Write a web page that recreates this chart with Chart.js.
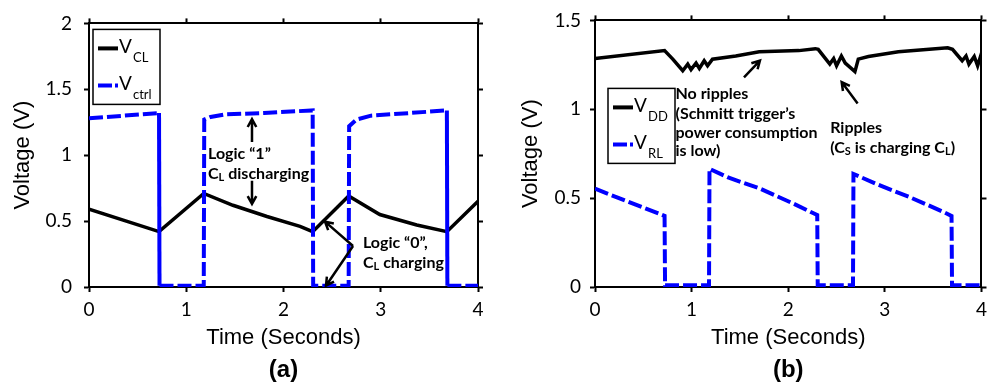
<!DOCTYPE html>
<html>
<head>
<meta charset="utf-8">
<script src="https://cdn.jsdelivr.net/npm/chart.js@4.4.1/dist/chart.umd.min.js"></script>
<style>
html, body { margin: 0; padding: 0; background: #fff; }
#wrap { position: relative; width: 993px; height: 385px; }
canvas { position: absolute; top: 0; }
</style>
</head>
<body>
<div id="wrap">
  <canvas id="chartA" width="490" height="385" style="left:0px"></canvas>
  <canvas id="chartB" width="503" height="385" style="left:490px"></canvas>
</div>
<script>
// ---- panel (a) ----
var clTime   = [0, 0.72, 1.18, 1.48, 1.83, 2.17, 2.3, 2.67, 2.99, 3.37, 3.68, 4.0];
var clVolt   = [0.59, 0.42, 0.71, 0.62, 0.535, 0.46, 0.42, 0.69, 0.55, 0.47, 0.42, 0.65];
var ctrlTime = [0, 0.72, 0.725, 1.18, 1.185, 1.25, 1.4, 1.8, 2.3, 2.305, 2.67, 2.675, 2.75, 2.9, 3.3, 3.68, 3.685, 4.0];
var ctrlVolt = [1.28, 1.32, 0.01, 0.01, 1.27, 1.29, 1.31, 1.32, 1.34, 0.01, 0.01, 1.22, 1.27, 1.30, 1.32, 1.34, 0.01, 0.01];

// ---- panel (b) ----
var ddTime = [0, 0.72, 0.805, 0.908, 0.96, 0.994, 1.046, 1.08, 1.13, 1.165, 1.216, 1.457, 1.70, 2.11, 2.28, 2.31,
              2.43, 2.47, 2.50, 2.55, 2.59, 2.69, 2.725, 2.83, 3.14, 3.65, 3.70, 3.80, 3.84, 3.87, 3.925, 3.96, 3.986, 4.0];
var ddVolt = [1.286, 1.33, 1.282, 1.217, 1.254, 1.223, 1.26, 1.23, 1.273, 1.245, 1.282, 1.30, 1.323, 1.33, 1.341, 1.337,
              1.254, 1.285, 1.245, 1.30, 1.26, 1.212, 1.282, 1.297, 1.323, 1.346, 1.337, 1.273, 1.30, 1.254, 1.297, 1.245, 1.29, 1.26];
var rlTime = [0, 0.72, 0.725, 1.18, 1.185, 1.37, 1.71, 2.05, 2.3, 2.305, 2.67, 2.675, 2.91, 3.25, 3.6, 3.69, 3.695, 4.0];
var rlVolt = [0.553, 0.40, 0.01, 0.01, 0.665, 0.618, 0.553, 0.47, 0.405, 0.01, 0.01, 0.636, 0.58, 0.507, 0.424, 0.40, 0.01, 0.01];

// ---- ticks ----
var timeTicks  = [0, 1, 2, 3, 4];
var voltTicksA = [0, 0.5, 1, 1.5, 2];
var voltTicksB = [0, 0.5, 1, 1.5];

function toPoints(t, v) {
    return t.map(function (x, i) { return {x: x, y: v[i]}; });
}

function setTicks(list) {
    return function (scale) {
        scale.ticks = list.map(function (v) { return {value: v}; });
    };
}

function makeScales(yTicks, yMax, leftW, rightW, yPad, titlePad) {
    var tickFont = {family: 'Lato', size: 19};
    var titleFont = {family: 'Liberation Sans', size: 22};
    var grid = {drawOnChartArea: false, tickLength: 5, tickWidth: 2, color: '#000'};
    var border = {color: '#000', width: 2};
    return {
        x: {
            type: 'linear', position: 'bottom', min: 0, max: 4,
            afterBuildTicks: setTicks(timeTicks),
            ticks: {font: tickFont, color: '#000', padding: 6, callback: function (v) { return String(v); }},
            grid: grid, border: border,
            title: {display: true, text: 'Time (Seconds)', font: titleFont, color: '#000', padding: {top: 0, bottom: 34}},
            afterFit: function (s) { s.height = 98; }
        },
        x2: {
            type: 'linear', position: 'top', min: 0, max: 4,
            afterBuildTicks: setTicks(timeTicks),
            ticks: {display: false},
            grid: grid, border: border,
            afterFit: function (s) { s.height = 17; }
        },
        y: {
            type: 'linear', position: 'left', min: 0, max: yMax,
            afterBuildTicks: setTicks(yTicks),
            ticks: {font: tickFont, color: '#000', padding: yPad, callback: function (v) { return String(v); }},
            grid: grid, border: border,
            title: {display: true, text: 'Voltage (V)', font: titleFont, color: '#000', padding: {top: titlePad, bottom: 0}},
            afterFit: function (s) { s.width = leftW; }
        },
        y2: {
            type: 'linear', position: 'right', min: 0, max: yMax,
            afterBuildTicks: setTicks(yTicks),
            ticks: {display: false},
            grid: grid, border: border,
            afterFit: function (s) { s.width = rightW; }
        }
    };
}

function drawArrow(ctx, x1, y1, x2, y2) {
    var a = Math.atan2(y2 - y1, x2 - x1), h = 9, w = 0.5;
    ctx.beginPath();
    ctx.moveTo(x1, y1);
    ctx.lineTo(x2, y2);
    ctx.moveTo(x2 - h * Math.cos(a - w), y2 - h * Math.sin(a - w));
    ctx.lineTo(x2, y2);
    ctx.lineTo(x2 - h * Math.cos(a + w), y2 - h * Math.sin(a + w));
    ctx.stroke();
}

function drawRich(ctx, x, y, parts) {
    parts.forEach(function (p) {
        var sub = Array.isArray(p);
        var s = sub ? p[0] : p;
        ctx.font = sub ? 'bold 11px Lato' : 'bold 16px Lato';
        ctx.fillText(s, x, sub ? y + 4 : y);
        x += ctx.measureText(s).width;
    });
}

var notesPlugin = {
    id: 'notes',
    afterDraw: function (chart, args, opts) {
        var ctx = chart.ctx, area = chart.chartArea;
        var xs = chart.scales.x, ys = chart.scales.y;
        ctx.save();

        // legend
        var bx = area.left + opts.legend[0], by = area.top + opts.legend[1];
        ctx.fillStyle = '#fff';
        ctx.fillRect(bx, by, 67, 75);
        ctx.strokeStyle = '#000';
        ctx.lineWidth = 1.5;
        ctx.strokeRect(bx, by, 67, 75);
        chart.data.datasets.forEach(function (ds, i) {
            var ry = by + 19 + i * 37;
            var name = ds.label.split('_');
            ctx.strokeStyle = ds.borderColor;
            ctx.lineWidth = 4;
            ctx.setLineDash(ds.borderDash ? [14, 3, 3, 10] : []);
            ctx.beginPath();
            ctx.moveTo(bx + 5, ry);
            ctx.lineTo(bx + 25, ry);
            ctx.stroke();
            ctx.setLineDash([]);
            ctx.fillStyle = '#000';
            ctx.textAlign = 'left';
            ctx.textBaseline = 'alphabetic';
            ctx.font = '19px Lato';
            ctx.fillText(name[0], bx + 26, ry + 4.5);
            ctx.font = '13px Lato';
            ctx.fillText(name[1], bx + 40, ry + 13.5);
        });

        // annotation text
        ctx.fillStyle = '#000';
        ctx.textAlign = 'left';
        ctx.textBaseline = 'middle';
        opts.texts.forEach(function (t) {
            drawRich(ctx, xs.getPixelForValue(t.x), ys.getPixelForValue(t.y), t.parts);
        });

        // arrows
        ctx.strokeStyle = '#000';
        ctx.lineWidth = 2.5;
        opts.arrows.forEach(function (a) {
            drawArrow(ctx, xs.getPixelForValue(a.from[0]), ys.getPixelForValue(a.from[1]),
                           xs.getPixelForValue(a.to[0]), ys.getPixelForValue(a.to[1]));
        });

        // panel caption
        ctx.font = 'bold 24px "Liberation Sans"';
        ctx.textAlign = 'center';
        ctx.textBaseline = 'middle';
        ctx.fillText(opts.caption, (area.left + area.right) / 2, 370);
        ctx.restore();
    }
};

function baseOptions(scales, notes) {
    return {
        responsive: false,
        animation: false,
        devicePixelRatio: 1,
        layout: {padding: 0},
        scales: scales,
        elements: {point: {radius: 0}, line: {tension: 0}},
        plugins: {legend: {display: false}, tooltip: {enabled: false}, notes: notes}
    };
}

new Chart(document.getElementById('chartA'), {
    type: 'scatter',
    plugins: [notesPlugin],
    data: {
        datasets: [
            {
                label: 'V_CL', data: toPoints(clTime, clVolt), showLine: true,
                borderColor: '#000', borderWidth: 3.5, order: 1
            },
            {
                label: 'V_ctrl', data: toPoints(ctrlTime, ctrlVolt), showLine: true,
                borderColor: '#0000ff', borderWidth: 4, borderDash: [14, 4], order: 0,
                segment: {
                    borderDash: function (ctx) {
                        var fall = ctx.p0.parsed.y > 1 && ctx.p1.parsed.y < 0.05;
                        return (fall && Math.abs(ctx.p0.parsed.x - 2.3) > 0.1) ? [] : undefined;
                    }
                }
            }
        ]
    },
    options: baseOptions(makeScales(voltTicksA, 2, 89, 12, 12, 10), {
        legend: [4, 6],
        caption: '(a)',
        texts: [
            {x: 1.224, y: 1.007, parts: ['Logic “1”']},
            {x: 1.224, y: 0.859, parts: ['C', ['L'], ' discharging']},
            {x: 2.817, y: 0.333, parts: ['Logic “0”,']},
            {x: 2.817, y: 0.185, parts: ['C', ['L'], ' charging']}
        ],
        arrows: [
            {from: [1.676, 1.10], to: [1.676, 1.274]},
            {from: [1.676, 0.807], to: [1.676, 0.63]},
            {from: [2.715, 0.311], to: [2.427, 0.496]},
            {from: [2.715, 0.311], to: [2.437, 0.01]}
        ]
    })
});

new Chart(document.getElementById('chartB'), {
    type: 'scatter',
    plugins: [notesPlugin],
    data: {
        datasets: [
            {
                label: 'V_DD', data: toPoints(ddTime, ddVolt), showLine: true,
                borderColor: '#000', borderWidth: 3.5, order: 1
            },
            {
                label: 'V_RL', data: toPoints(rlTime, rlVolt), showLine: true,
                borderColor: '#0000ff', borderWidth: 4, borderDash: [14, 4], order: 0
            }
        ]
    },
    options: baseOptions(makeScales(voltTicksB, 1.5, 105, 9, 9, 28), {
        legend: [13, 68],
        caption: '(b)',
        texts: [
            {x: 0.833, y: 1.088, parts: ['No ripples']},
            {x: 0.833, y: 0.977, parts: ['(Schmitt trigger’s']},
            {x: 0.833, y: 0.866, parts: ['power consumption']},
            {x: 0.833, y: 0.765, parts: ['is low)']},
            {x: 2.434, y: 0.894, parts: ['Ripples']},
            {x: 2.434, y: 0.784, parts: ['(C', ['S'], ' is charging C', ['L'], ')']}
        ],
        arrows: [
            {from: [1.542, 1.18], to: [1.707, 1.274]},
            {from: [2.718, 1.033], to: [2.553, 1.153]}
        ]
    })
});
</script>
</body>
</html>
